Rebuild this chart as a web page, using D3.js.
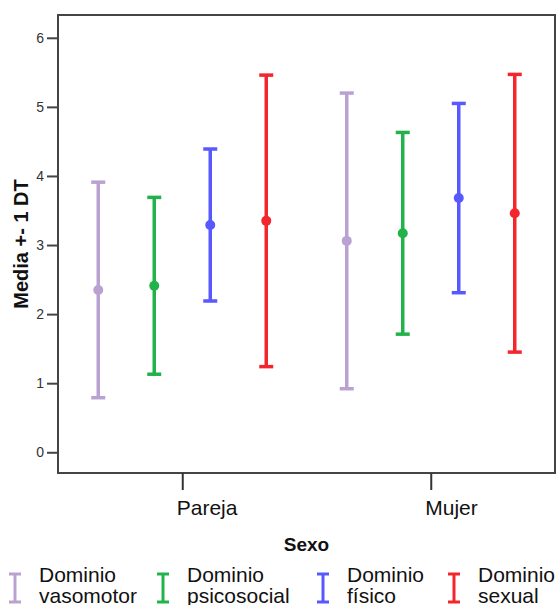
<!DOCTYPE html>
<html>
<head>
<meta charset="utf-8">
<script src="https://cdn.jsdelivr.net/npm/d3@7"></script>
<style>
  html, body { margin: 0; padding: 0; background: #fff; }
  svg { display: block; font-family: "Liberation Sans", Arial, sans-serif; }
</style>
</head>
<body>
<div id="chart"></div>
<script>
// Data: mean +- 1 SD per domain, by sex
const groups = ['Pareja', 'Mujer'];
const seriesNames = ['vasomotor', 'psicosocial', 'físico', 'sexual'];
const seriesColors = ['#b9a2d2', '#22b24a', '#5858ff', '#f2262c'];
const meansPareja = [2.35, 2.41, 3.29, 3.35];
const sdPareja = [1.56, 1.28, 1.10, 2.11];
const meansMujer = [3.06, 3.17, 3.68, 3.46];
const sdMujer = [2.14, 1.46, 1.37, 2.01];
const yTicks = [0, 1, 2, 3, 4, 5, 6];

const width = 558;
const height = 605;
const plot = { left: 58, right: 555, top: 15, bottom: 473 };
// legend icon positions (layout only)
const legendX = [15, 163, 323, 454];

const svg = d3.select('#chart')
  .append('svg')
  .attr('width', width)
  .attr('height', height);

// Scales
const x = d3.scalePoint()
  .domain(groups)
  .range([plot.left, plot.right])
  .padding(0.5);

const offset = d3.scalePoint()
  .domain(seriesNames)
  .range([-84, 84]);

const y = d3.scaleLinear()
  .domain([-0.3, 6.33])
  .range([plot.bottom, plot.top]);

const color = d3.scaleOrdinal()
  .domain(seriesNames)
  .range(seriesColors);

// Build rows for drawing
const rows = [];
seriesNames.forEach((s, i) => {
  rows.push({ group: 'Pareja', series: s, mean: meansPareja[i], sd: sdPareja[i] });
  rows.push({ group: 'Mujer', series: s, mean: meansMujer[i], sd: sdMujer[i] });
});

// Frame
svg.append('rect')
  .attr('x', plot.left)
  .attr('y', plot.top)
  .attr('width', plot.right - plot.left)
  .attr('height', plot.bottom - plot.top)
  .style('fill', 'none')
  .style('stroke', '#444')
  .style('stroke-width', '2px');

// Y axis
const yAxis = svg.append('g')
  .attr('transform', `translate(${plot.left},0)`)
  .call(d3.axisLeft(y).tickValues(yTicks).tickSize(11).tickPadding(3).tickFormat(d3.format('d')));
yAxis.select('.domain').remove();
yAxis.selectAll('.tick line').style('stroke', '#444').style('stroke-width', '2px');
yAxis.selectAll('.tick text')
  .style('font-size', '14px')
  .style('fill', '#333')
  .style('font-family', '"Liberation Sans", Arial, sans-serif');

// X axis
const xAxis = svg.append('g')
  .attr('transform', `translate(0,${plot.bottom})`)
  .call(d3.axisBottom(x).tickSize(17).tickPadding(0));
xAxis.select('.domain').remove();
xAxis.selectAll('.tick line').style('stroke', '#333').style('stroke-width', '2px');
xAxis.selectAll('.tick text')
  .attr('y', 42)
  .attr('dy', 0)
  .attr('dx', -6)
  .attr('text-anchor', 'start')
  .style('font-size', '21px')
  .style('fill', '#111')
  .style('font-family', '"Liberation Sans", Arial, sans-serif');

// Axis titles
svg.append('text')
  .attr('x', (plot.left + plot.right) / 2)
  .attr('y', 551)
  .attr('text-anchor', 'middle')
  .style('font-size', '19px')
  .style('font-weight', 'bold')
  .style('fill', '#111')
  .text('Sexo');

svg.append('text')
  .attr('transform', `translate(28,${(plot.top + plot.bottom) / 2}) rotate(-90)`)
  .attr('text-anchor', 'middle')
  .style('font-size', '20px')
  .style('font-weight', 'bold')
  .style('fill', '#111')
  .text('Media +- 1 DT');

// Error bars
const capW = 7;
const bars = svg.append('g').selectAll('g.bar')
  .data(rows)
  .join('g')
  .attr('class', 'bar')
  .attr('transform', d => `translate(${x(d.group) + offset(d.series)},0)`)
  .style('stroke', d => color(d.series))
  .style('stroke-width', '3.5px');

bars.append('line')
  .attr('y1', d => y(d.mean - d.sd))
  .attr('y2', d => y(d.mean + d.sd));

bars.append('line')
  .attr('x1', -capW).attr('x2', capW)
  .attr('y1', d => y(d.mean + d.sd))
  .attr('y2', d => y(d.mean + d.sd));

bars.append('line')
  .attr('x1', -capW).attr('x2', capW)
  .attr('y1', d => y(d.mean - d.sd))
  .attr('y2', d => y(d.mean - d.sd));

bars.append('circle')
  .attr('cy', d => y(d.mean))
  .attr('r', 5)
  .style('stroke', 'none')
  .style('fill', d => color(d.series));

// Legend
const legend = svg.append('g').attr('class', 'legend');
seriesNames.forEach((s, i) => {
  const item = legend.append('g').attr('transform', `translate(${legendX[i]},0)`);
  const c = color(s);
  item.append('line').attr('x1', 0).attr('x2', 0).attr('y1', 574).attr('y2', 602)
    .style('stroke', c).style('stroke-width', '3px');
  item.append('line').attr('x1', -6).attr('x2', 6).attr('y1', 574).attr('y2', 574)
    .style('stroke', c).style('stroke-width', '3px');
  item.append('line').attr('x1', -6).attr('x2', 6).attr('y1', 602).attr('y2', 602)
    .style('stroke', c).style('stroke-width', '3px');
  const t = item.append('text')
    .style('font-size', '21px')
    .style('fill', '#111');
  t.append('tspan').attr('x', 24).attr('y', 582).text('Dominio');
  t.append('tspan').attr('x', 24).attr('y', 603).text(s);
});
</script>
</body>
</html>
